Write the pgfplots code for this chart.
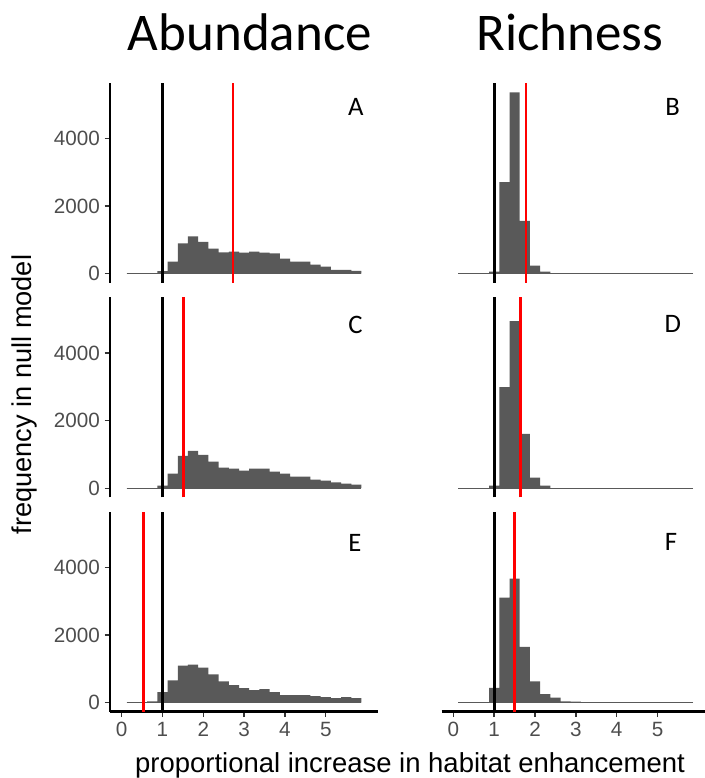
\documentclass[border=0pt]{standalone}
\usepackage{pgfplots}
\pgfplotsset{compat=1.18}
\usepackage{pgfplotstable}
\usepackage{fontspec}
\setmainfont{Liberation Sans}
\newfontfamily\calibri{Carlito}

\definecolor{bargray}{HTML}{595959}
\definecolor{tickgray}{HTML}{333333}
\definecolor{labgray}{HTML}{4D4D4D}

% histogram counts, bins of width 0.25 (left edges)
\pgfplotstableread{
x      A     B     C     D     E     F
0.125  0     0     0     0     0     0
0.375  0     0     0     0     0     0
0.625  0     0     0     0     40    0
0.875  70    60    78    78    311   437
1.125  353   2706  431   2990  660   3107
1.375  892   5363  961   4941  1097  3670
1.625  1098  1559  1108  1608  1126  1650
1.875  941   235   990   314   1039  631
2.125  735   60    784   78    835   252
2.375  627   0     608   0     631   146
2.625  647   0     578   0     515   39
2.875  617   0     520   0     427   29
3.125  647   0     578   0     369   0
3.375  617   0     578   0     398   0
3.625  598   0     490   0     311   0
3.875  441   0     431   0     223   0
4.125  353   0     343   0     223   0
4.375  353   0     343   0     223   0
4.625  265   0     255   0     194   0
4.875  206   0     225   0     165   0
5.125  108   0     176   0     136   0
5.375  108   0     137   0     165   0
5.625  78    0     108   0     136   0
5.875  0     0     0     0     0     0
}\hist

\pgfplotsset{
  panel/.style={
    scale only axis, width=201pt, height=150pt,
    xmin=-0.285, xmax=6.28, ymin=-269, ymax=5647,
    anchor=north west,
    axis line style={line width=2pt, black},
    tick style={tickgray, line width=1.1pt},
    tick align=outside, major tick length=4pt,
    xtick={0,1,2,3,4,5}, ytick={0,2000,4000},
    ticklabel style={text=labgray, font=\fontsize{15.5}{17}\selectfont},
    /pgf/number format/assume math mode=true,
    /pgf/number format/1000 sep={},
  },
  leftp/.style={panel, axis y line*=left},
  rightp/.style={panel, axis y line=none},
  topp/.style={axis x line=none},
  botp/.style={axis x line*=bottom},
}

\newcommand{\panel}[2]{%
  \addplot[const plot, fill=bargray, draw=none] table[x=x, y=#1] {\hist} \closedcycle;
  \addplot[bargray, line width=0.8pt] coordinates {(0.125,0) (5.875,0)};
  \addplot[black, line width=2pt] coordinates {(1,-269) (1,5647)};
  \addplot[red, line width=2pt] coordinates {(#2,-269) (#2,5647)};
}

\begin{document}
\begin{tikzpicture}
\useasboundingbox (0,0) rectangle (528pt,-583.5pt);

\begin{axis}[leftp, topp, at={(82.5pt,-62pt)}]
  \panel{A}{2.73}
\end{axis}
\begin{axis}[rightp, topp, at={(331.3pt,-62pt)}]
  \panel{B}{1.78}
\end{axis}
\begin{axis}[leftp, topp, at={(82.5pt,-223pt)}]
  \panel{C}{1.51}
\end{axis}
\begin{axis}[rightp, topp, at={(331.3pt,-223pt)}]
  \panel{D}{1.65}
\end{axis}
\begin{axis}[leftp, botp, at={(82.5pt,-383.8pt)}]
  \panel{E}{0.53}
\end{axis}
\begin{axis}[rightp, botp, at={(331.3pt,-383.8pt)}]
  \panel{F}{1.50}
\end{axis}

\node[anchor=base, font=\calibri\fontsize{39.75}{42}\selectfont] at (187.5pt,-38pt) {Abundance};
\node[anchor=base, font=\calibri\fontsize{39.75}{42}\selectfont] at (427.5pt,-37.5pt) {Richness};

\node[anchor=base, font=\calibri\fontsize{20}{22}\selectfont] at (266.9pt,-86.8pt) {A};
\node[anchor=base, font=\calibri\fontsize{20}{22}\selectfont] at (504.5pt,-86.8pt) {B};
\node[anchor=base, font=\calibri\fontsize{20}{22}\selectfont] at (266.6pt,-250pt) {C};
\node[anchor=base, font=\calibri\fontsize{20}{22}\selectfont] at (504.7pt,-249.5pt) {D};
\node[anchor=base, font=\calibri\fontsize{20}{22}\selectfont] at (266.2pt,-413.8pt) {E};
\node[anchor=base, font=\calibri\fontsize{20}{22}\selectfont] at (503.2pt,-412.5pt) {F};

\node[rotate=90, font=\fontsize{20.4}{22}\selectfont] at (18pt,-296pt) {frequency in null model};
\node[anchor=base, font=\fontsize{20.6}{22}\selectfont] at (307.5pt,-579.7pt) {proportional increase in habitat enhancement};
\end{tikzpicture}
\end{document}
